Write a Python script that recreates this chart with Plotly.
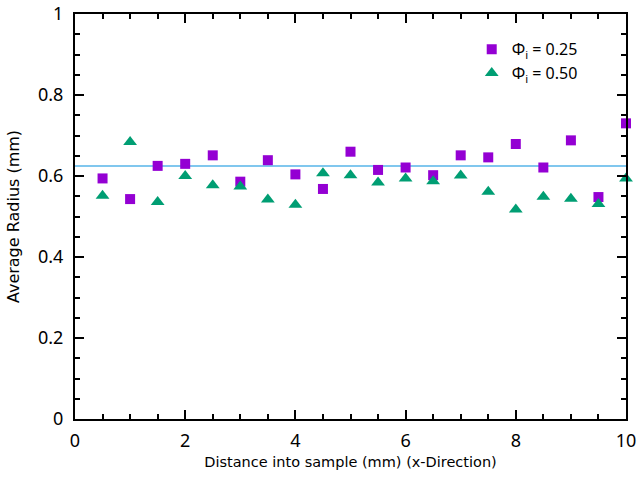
import plotly.graph_objects as go

x_pos = [0.5, 1.0, 1.5, 2.0, 2.5, 3.0, 3.5, 4.0, 4.5, 5.0,
         5.5, 6.0, 6.5, 7.0, 7.5, 8.0, 8.5, 9.0, 9.5, 10.0]
radius_025 = [0.594, 0.543, 0.625, 0.630, 0.651, 0.586, 0.639, 0.604, 0.568, 0.660,
              0.615, 0.621, 0.602, 0.651, 0.646, 0.679, 0.621, 0.688, 0.548, 0.730]
radius_050 = [0.551, 0.684, 0.536, 0.600, 0.577, 0.574, 0.542, 0.529, 0.607, 0.602,
              0.584, 0.594, 0.587, 0.601, 0.561, 0.517, 0.549, 0.544, 0.531, 0.594]
mean_line_x = [0, 10]
mean_line_y = [0.625, 0.625]

fig = go.Figure()
fig.add_trace(go.Scatter(x=mean_line_x, y=mean_line_y, mode="lines",
                         line=dict(color="#56B4E9", width=1.5), showlegend=False,
                         hoverinfo="skip", cliponaxis=False))
fig.add_trace(go.Scatter(x=x_pos, y=radius_025, mode="markers", name="Φ<sub>i</sub> = 0.25",
                         marker=dict(symbol="square", size=10, color="#9400D3"), cliponaxis=False))
fig.add_trace(go.Scatter(x=x_pos, y=radius_050, mode="markers", name="Φ<sub>i</sub> = 0.50",
                         marker=dict(symbol="triangle-up", size=12, color="#009E73"), cliponaxis=False))

axis_common = dict(showline=True, linecolor="black", linewidth=2, mirror="allticks",
                   ticks="inside", ticklen=9, tickwidth=2, tickcolor="black",
                   showgrid=False, zeroline=False, automargin=False,
                   ticklabeloverflow="allow",
                   tickfont=dict(family="Noto Sans", size=18, color="black"))

fig.update_xaxes(range=[0, 10], tick0=0, dtick=2, ticklabelstandoff=4,
                 minor=dict(ticks="inside", ticklen=5, tickwidth=2, tickcolor="black", dtick=0.5),
                 title=dict(text="Distance into sample (mm) (x-Direction)",
                            font=dict(family="DejaVu Sans", size=14.5, color="black"), standoff=6),
                 **axis_common)
fig.update_yaxes(range=[0, 1], tick0=0, dtick=0.2, ticklabelstandoff=6,
                 minor=dict(ticks="inside", ticklen=5, tickwidth=2, tickcolor="black", dtick=0.05),
                 title=dict(text="Average Radius (mm)",
                            font=dict(family="DejaVu Sans", size=16, color="black"), standoff=14),
                 tickformat=".1~f",
                 **axis_common)

fig.update_layout(
    width=641, height=489,
    margin=dict(l=75, r=15, t=14, b=70),
    plot_bgcolor="white", paper_bgcolor="white",
    legend=dict(x=0.72, y=0.955, xanchor="left", yanchor="top",
                bgcolor="rgba(0,0,0,0)", font=dict(family="Noto Sans", size=16, color="black"),
                tracegroupgap=2),
)

fig.write_html("out.html", config={"displayModeBar": False},
               post_script="document.body.style.margin='0';document.body.style.overflow='hidden';")
